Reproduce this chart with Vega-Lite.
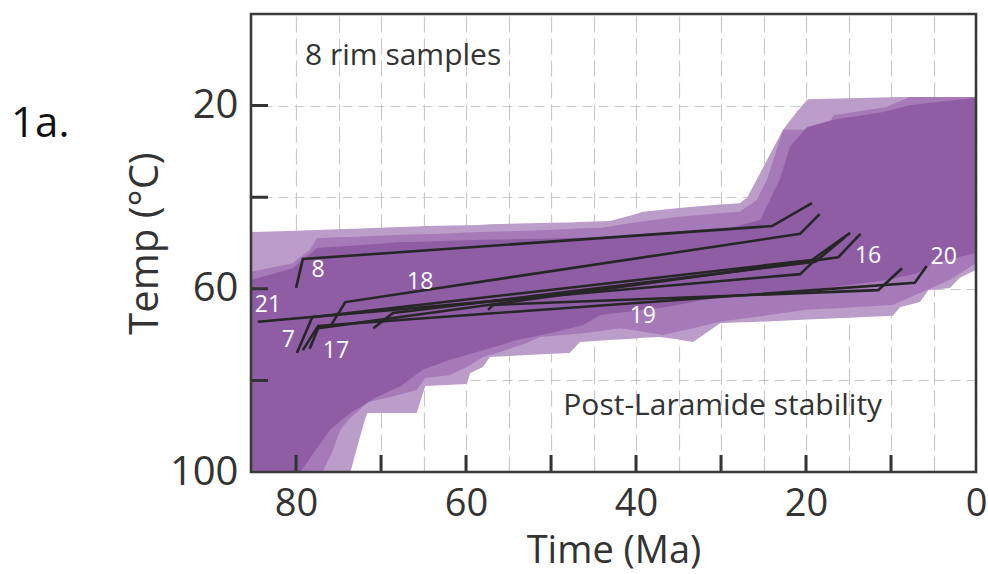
{
  "$schema": "https://vega.github.io/schema/vega-lite/v6.json",
  "width": 725,
  "height": 458,
  "autosize": {"type": "none"},
  "padding": {"left": 251, "top": 14, "right": 12, "bottom": 102},
  "background": "white",
  "config": {
    "font": "Open Sans",
    "view": {"stroke": null}
  },
  "datasets": {
    "envA": [
      {"t":85.3,"T":47.6,"T2":100},{"t":80,"T":47.3,"T2":100},{"t":75,"T":47.0,"T2":100},{"t":73.6,"T":46.9,"T2":100},
      {"t":72.8,"T":46.9,"T2":94.5},{"t":71.9,"T":46.8,"T2":88.6},{"t":71.6,"T":46.8,"T2":87.1},{"t":67.8,"T":46.5,"T2":87.1},
      {"t":65.8,"T":46.4,"T2":87.1},{"t":64.8,"T":46.3,"T2":81.2},{"t":59.9,"T":46.1,"T2":80.8},{"t":59.5,"T":46.1,"T2":78.4},
      {"t":58,"T":46.0,"T2":77.1},{"t":57.2,"T":45.9,"T2":74.9},{"t":50,"T":45.6,"T2":74.2},{"t":47.8,"T":45.5,"T2":74.0},
      {"t":46.6,"T":45.4,"T2":71.6},{"t":43.1,"T":45.2,"T2":71.2},{"t":40.4,"T":43.9,"T2":70.9},{"t":39.2,"T":43.2,"T2":70.7},
      {"t":37.2,"T":42.8,"T2":70.5},{"t":35.2,"T":42.4,"T2":71.0},{"t":33.3,"T":42.1,"T2":71.6},{"t":30.1,"T":41.6,"T2":67.5},
      {"t":27.8,"T":41.3,"T2":67.3},{"t":26.9,"T":40.0,"T2":67.3},{"t":24,"T":29.8,"T2":67.1},{"t":22.7,"T":25.3,"T2":67.0},
      {"t":21.1,"T":21.4,"T2":66.8},{"t":19.8,"T":18.6,"T2":66.7},{"t":15,"T":18.4,"T2":66.3},{"t":9.8,"T":18.2,"T2":65.9},
      {"t":8.9,"T":18.1,"T2":64.0},{"t":7.8,"T":18.1,"T2":63.5},{"t":6.6,"T":18.1,"T2":62.9},{"t":5.6,"T":18.1,"T2":60.3},
      {"t":3.1,"T":18.1,"T2":59.8},{"t":1.9,"T":18.1,"T2":57.6},{"t":0,"T":18.1,"T2":55.9}
    ],
    "envB": [
      {"t":85.3,"T":56.3,"T2":100},{"t":80.4,"T":54.4,"T2":100},{"t":78.4,"T":51.5,"T2":100},{"t":77.5,"T":48.9,"T2":100},
      {"t":76.9,"T":48.9,"T2":100},{"t":75.8,"T":48.8,"T2":95.9},{"t":74.8,"T":48.7,"T2":90.8},{"t":73.6,"T":48.7,"T2":88.2},
      {"t":71.5,"T":48.5,"T2":84.7},{"t":68.9,"T":48.3,"T2":83.6},{"t":65.8,"T":48.1,"T2":82.1},{"t":64.8,"T":48.1,"T2":79.5},
      {"t":61.9,"T":47.9,"T2":78.8},{"t":59.9,"T":47.7,"T2":77.1},{"t":58.0,"T":47.6,"T2":74.9},{"t":56.0,"T":47.5,"T2":73.8},
      {"t":52.8,"T":47.3,"T2":71.8},{"t":51.3,"T":47.2,"T2":70.5},{"t":46.2,"T":46.8,"T2":69.7},{"t":44.2,"T":46.7,"T2":69.2},
      {"t":41.9,"T":46.0,"T2":68.6},{"t":40.4,"T":45.6,"T2":69.0},{"t":36.8,"T":44.7,"T2":70.1},{"t":35.2,"T":44.3,"T2":69.4},
      {"t":33.3,"T":44.0,"T2":68.6},{"t":30.1,"T":43.5,"T2":67.2},{"t":27.8,"T":43.2,"T2":66.6},{"t":25.8,"T":40.6,"T2":66.1},
      {"t":24.6,"T":36.2,"T2":65.8},{"t":22.7,"T":25.3,"T2":65.3},{"t":19.9,"T":25.3,"T2":64.6},{"t":17.5,"T":25.3,"T2":64.3},
      {"t":16.8,"T":22.1,"T2":64.3},{"t":10.5,"T":20.3,"T2":63.6},{"t":9.8,"T":19.7,"T2":63.5},{"t":7.8,"T":18.1,"T2":61.9},
      {"t":6.6,"T":18.1,"T2":60.9},{"t":3.1,"T":18.1,"T2":58.1},{"t":0,"T":18.1,"T2":54.4}
    ],
    "envC": [
      {"t":85.3,"T":58.1,"T2":100},{"t":80.4,"T":55.5,"T2":100},{"t":79.5,"T":54.1,"T2":100},{"t":77.5,"T":51.1,"T2":94.7},
      {"t":76.0,"T":50.9,"T2":90.8},{"t":73.6,"T":50.6,"T2":87.1},{"t":70.5,"T":50.2,"T2":83.6},{"t":67.8,"T":49.8,"T2":81.4},
      {"t":65.1,"T":49.7,"T2":77.7},{"t":61.9,"T":49.5,"T2":75.5},{"t":58.0,"T":49.3,"T2":73.4},{"t":54.0,"T":49.2,"T2":71.2},
      {"t":50.1,"T":49.0,"T2":69.7},{"t":46.2,"T":48.8,"T2":67.9},{"t":44.2,"T":48.7,"T2":65.7},{"t":36.4,"T":47.6,"T2":64.0},
      {"t":30.1,"T":46.7,"T2":61.8},{"t":28.6,"T":46.5,"T2":61.6},{"t":25.4,"T":45.0,"T2":61.0},{"t":23.1,"T":36.2,"T2":60.6},
      {"t":21.9,"T":29.0,"T2":60.4},{"t":19.9,"T":24.7,"T2":60.3},{"t":16.8,"T":23.1,"T2":59.6},{"t":10.9,"T":21.4,"T2":58.2},
      {"t":10.5,"T":21.2,"T2":58.1},{"t":7.8,"T":19.9,"T2":57.0},{"t":6.9,"T":19.7,"T2":56.6},{"t":5.1,"T":19.3,"T2":54.4},
      {"t":0,"T":18.3,"T2":52.2}
    ],
    "paths": [
      {"s":"8","o":1,"t":80.0,"T":59.8},{"s":"8","o":2,"t":79.2,"T":53.5},{"s":"8","o":3,"t":24.0,"T":46.3},{"s":"8","o":4,"t":19.3,"T":41.3},
      {"s":"18","o":1,"t":76.0,"T":68.3},{"s":"18","o":2,"t":74.2,"T":62.9},{"s":"18","o":3,"t":20.7,"T":48.0},{"s":"18","o":4,"t":18.4,"T":43.7},
      {"s":"21","o":1,"t":84.5,"T":67.2},{"s":"21","o":2,"t":20.7,"T":56.8},{"s":"21","o":3,"t":18.7,"T":53.3},
      {"s":"7","o":1,"t":79.9,"T":74.0},{"s":"7","o":2,"t":78.1,"T":66.2},{"s":"7","o":3,"t":19.3,"T":53.7},{"s":"7","o":4,"t":14.8,"T":47.8},
      {"s":"17","o":1,"t":78.4,"T":73.1},{"s":"17","o":2,"t":77.4,"T":68.6},{"s":"17","o":3,"t":16.2,"T":53.1},{"s":"17","o":4,"t":13.6,"T":48.0},
      {"s":"16","o":1,"t":70.9,"T":68.6},{"s":"16","o":2,"t":68.6,"T":65.3},{"s":"16","o":3,"t":18.9,"T":54.1},{"s":"16","o":4,"t":15.4,"T":48.7},
      {"s":"19","o":1,"t":57.4,"T":64.6},{"s":"19","o":2,"t":56.8,"T":63.5},{"s":"19","o":3,"t":11.5,"T":60.3},{"s":"19","o":4,"t":8.7,"T":55.5},
      {"s":"20","o":1,"t":79.2,"T":73.4},{"s":"20","o":2,"t":77.4,"T":68.1},{"s":"20","o":3,"t":7.2,"T":58.7},{"s":"20","o":4,"t":5.8,"T":55.0}
    ],
    "labels": [
      {"txt":"8","t":77.4,"T":55.9},{"txt":"18","t":65.4,"T":58.5},{"txt":"21","t":83.3,"T":63.5},
      {"txt":"7","t":80.9,"T":71.2},{"txt":"17","t":75.3,"T":73.6},{"txt":"16","t":12.7,"T":52.8},
      {"txt":"20","t":3.8,"T":53.1},{"txt":"19","t":39.2,"T":65.9}
    ],
    "notes": [
      {"txt":"8 rim samples","t":67.4,"T":9.2},
      {"txt":"Post-Laramide stability","t":29.8,"T":85.5}
    ],
    "panel": [
      {"txt":"1a.","t":110.1,"T":24.0}
    ],
    "xticks": [
      {"t":10,"T":100},{"t":20,"T":100},{"t":30,"T":100},{"t":40,"T":100},
      {"t":50,"T":100},{"t":60,"T":100},{"t":70,"T":100},{"t":80,"T":100}
    ],
    "yticks": [
      {"t":85.3,"T":20},{"t":85.3,"T":40},{"t":85.3,"T":60},{"t":85.3,"T":80}
    ],
    "frame": [
      {"t":85.3,"t2":0,"T":0,"T2":100}
    ]
  },
  "encoding": {
    "x": {
      "field": "t", "type": "quantitative",
      "scale": {"domain": [0, 85.3], "reverse": true, "nice": false, "zero": false},
      "axis": {
        "title": "Time (Ma)",
        "values": [0,5,10,15,20,25,30,35,40,45,50,55,60,65,70,75,80],
        "labelExpr": "datum.value % 20 === 0 ? datum.label : ''",
        "domain": false, "ticks": false,
        "grid": true, "gridColor": "#c9c9c9", "gridWidth": 1.2, "gridDash": [16, 6],
        "labelFontSize": 38, "labelColor": "#333333", "labelPadding": 13,
        "labelFlush": false, "labelOverlap": false, "labelBound": false,
        "titleFontSize": 38, "titleFontWeight": "normal", "titleColor": "#333333", "titlePadding": 9
      }
    },
    "y": {
      "field": "T", "type": "quantitative",
      "scale": {"domain": [0, 100], "reverse": true, "nice": false, "zero": false},
      "axis": {
        "title": "Temp (°C)",
        "values": [20, 40, 60, 80, 100],
        "labelExpr": "datum.value % 40 === 20 || datum.value === 100 ? datum.label : ''",
        "domain": false, "ticks": false,
        "grid": true, "gridColor": "#c9c9c9", "gridWidth": 1.2, "gridDash": [10, 6],
        "labelFontSize": 40, "labelColor": "#333333", "labelPadding": 13,
        "labelFlush": false, "labelOverlap": false, "labelBound": false,
        "titleFontSize": 40, "titleFontWeight": "normal", "titleColor": "#333333", "titlePadding": 4
      }
    }
  },
  "layer": [
    {"data": {"name": "envA"}, "mark": {"type": "area", "color": "#bc9cc8", "opacity": 1}, "encoding": {"y2": {"field": "T2"}}},
    {"data": {"name": "envB"}, "mark": {"type": "area", "color": "#a67ab8", "opacity": 1}, "encoding": {"y2": {"field": "T2"}}},
    {"data": {"name": "envC"}, "mark": {"type": "area", "color": "#8f5da4", "opacity": 1}, "encoding": {"y2": {"field": "T2"}}},
    {"data": {"name": "paths"}, "mark": {"type": "line", "color": "#262626", "strokeWidth": 2.6},
     "encoding": {"detail": {"field": "s"}, "order": {"field": "o"}}},
    {"data": {"name": "xticks"}, "mark": {"type": "tick", "orient": "vertical", "color": "#333333", "size": 34, "thickness": 3, "opacity": 1, "clip": true}},
    {"data": {"name": "yticks"}, "mark": {"type": "tick", "orient": "horizontal", "color": "#333333", "size": 34, "thickness": 3, "opacity": 1, "clip": true}},
    {"data": {"name": "labels"}, "mark": {"type": "text", "color": "white", "fontSize": 23, "align": "center", "baseline": "middle"},
     "encoding": {"text": {"field": "txt"}}},
    {"data": {"name": "notes"}, "mark": {"type": "text", "color": "#333333", "fontSize": 30, "align": "center", "baseline": "middle"},
     "encoding": {"text": {"field": "txt"}}},
    {"data": {"name": "panel"}, "mark": {"type": "text", "color": "#111111", "fontSize": 42, "align": "center", "baseline": "middle"},
     "encoding": {"text": {"field": "txt"}}},
    {"data": {"name": "frame"}, "mark": {"type": "rect", "fill": "transparent", "stroke": "#3a3a3a", "strokeWidth": 2.6},
     "encoding": {"x2": {"field": "t2"}, "y2": {"field": "T2"}}}
  ]
}
